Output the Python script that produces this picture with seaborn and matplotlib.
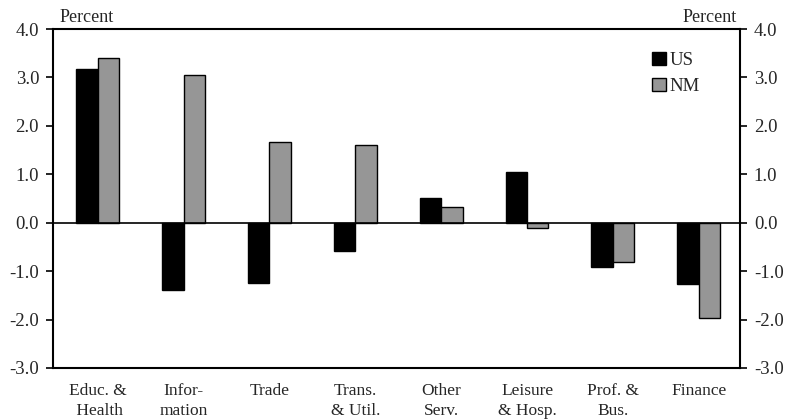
import matplotlib
matplotlib.use("Agg")
import matplotlib.pyplot as plt
import seaborn as sns
import pandas as pd
from matplotlib.patches import Patch

categories = ["Educ. &\n Health", "Infor-\nmation", "Trade", "Trans.\n& Util.",
              "Other\nServ.", "Leisure\n& Hosp.", "Prof. &\nBus.", "Finance"]
us_values = [3.18, -1.38, -1.24, -0.58, 0.50, 1.05, -0.91, -1.26]
nm_values = [3.41, 3.04, 1.67, 1.61, 0.33, -0.10, -0.81, -1.96]
series = ["US", "NM"]
yticks = [-3.0, -2.0, -1.0, 0.0, 1.0, 2.0, 3.0, 4.0]

df = pd.DataFrame({
    "category": categories * 2,
    "series": ["US"] * len(categories) + ["NM"] * len(categories),
    "value": us_values + nm_values,
})

sns.set_style("white")
plt.rcParams["font.family"] = ["Liberation Serif", "DejaVu Serif"]

fig = plt.figure(figsize=(7.88, 4.19), dpi=100)
ax = fig.add_axes([53/788, 1 - 368/419, (740-53)/788, (368-29)/419])

palette = {"US": "#000000", "NM": "#969696"}
sns.barplot(data=df, x="category", y="value", hue="series", hue_order=series,
            palette=palette, order=categories, width=0.5, edgecolor="black",
            linewidth=1.0, saturation=1, ax=ax, legend=False)

ax.set_ylim(-3.0, 4.0)
ax.set_xlim(-0.52, 7.48)
ax.axhline(0, color="black", linewidth=1.2, zorder=5)
ax.set_yticks(yticks)
ax.set_yticklabels([f"{v:.1f}" for v in yticks], fontsize=13.5)
ax.tick_params(axis="y", direction="out", length=5, width=1.2, color="black",
               left=True, right=True, labelleft=True, labelright=True, pad=5)
ax.tick_params(axis="x", length=0, labelsize=12.5, pad=11)
for lbl in ax.get_xticklabels():
    lbl.set_linespacing(1.3)
ax.set_xlabel("")
ax.set_ylabel("")
for s in ax.spines.values():
    s.set_visible(True)
    s.set_color("black")
    s.set_linewidth(1.5)

fig.text(60/788, 1 - 18/419, "Percent", fontsize=13, ha="left", va="center")
fig.text(737/788, 1 - 18/419, "Percent", fontsize=13, ha="right", va="center")

handles = [Patch(facecolor=palette[s], edgecolor="black", linewidth=1.0, label=s) for s in series]
ax.legend(handles=handles, loc="upper left", bbox_to_anchor=(0.861, 0.955),
          frameon=False, fontsize=13.5, handlelength=0.75, handleheight=0.75,
          handletextpad=0.2, labelspacing=0.45, borderaxespad=0)

fig.savefig("out.png", dpi=100)
